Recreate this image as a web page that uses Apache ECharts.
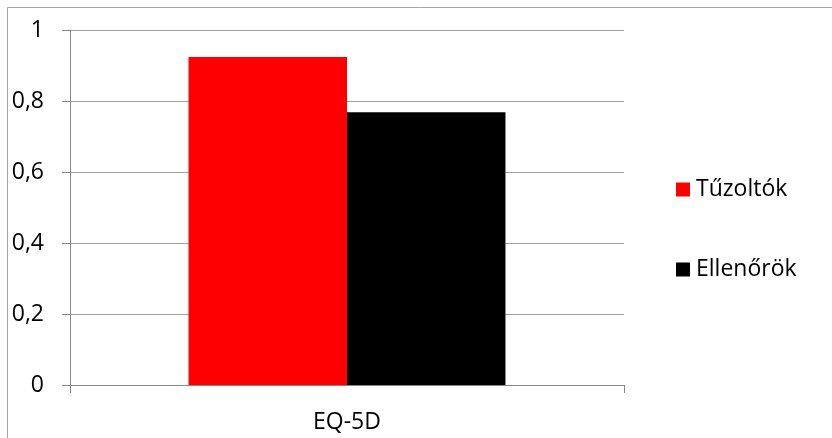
<!DOCTYPE html>
<html>
<head>
<meta charset="utf-8">
<script src="https://cdn.jsdelivr.net/npm/echarts@6/dist/echarts.min.js"></script>
<style>
  html, body { margin: 0; padding: 0; background: #fff; }
  #chart { width: 832px; height: 438px; }
</style>
</head>
<body>
<div id="chart"></div>
<script>
// EQ-5D scores by group
const categories = ['EQ-5D'];
const seriesNames = ['Tűzoltók', 'Ellenőrök'];
const tuzoltok = [0.926];
const ellenorok = [0.770];
const yTicks = { min: 0, max: 1, interval: 0.2 };

const FONT = '"Open Sans", sans-serif';
const AXIS_GREY = '#868686';

const chart = echarts.init(document.getElementById('chart'), null, { renderer: 'canvas' });

chart.setOption({
  animation: false,
  backgroundColor: '#fff',
  graphic: [{
    type: 'rect',
    shape: { x: 7.5, y: 7.5, width: 900, height: 500 },
    style: { fill: 'none', stroke: '#a6a6a6', lineWidth: 1 },
    silent: true
  }],
  grid: { left: 70, right: 208, top: 30.7, bottom: 53, containLabel: false },
  legend: {
    orient: 'vertical',
    left: 671,
    top: 173,
    itemWidth: 14,
    itemHeight: 14,
    itemGap: 57,
    icon: 'rect',
    textStyle: { fontFamily: FONT, fontSize: 23, color: '#000', lineHeight: 22, padding: [0, 0, 0, 1] },
    data: seriesNames
  },
  xAxis: {
    type: 'category',
    data: categories,
    boundaryGap: true,
    axisLine: { lineStyle: { color: AXIS_GREY, width: 1 } },
    axisTick: { show: true, length: 8, lineStyle: { color: AXIS_GREY } },
    axisLabel: { fontFamily: FONT, fontSize: 23, color: '#000', margin: 26 },
    splitLine: { show: false }
  },
  yAxis: {
    type: 'value',
    min: yTicks.min,
    max: yTicks.max,
    interval: yTicks.interval,
    axisLine: { show: true, lineStyle: { color: AXIS_GREY, width: 1 } },
    axisTick: { show: true, length: 8, lineStyle: { color: AXIS_GREY } },
    axisLabel: {
      fontFamily: FONT, fontSize: 23, color: '#000', margin: 26,
      formatter: v => String(Math.round(v * 10) / 10).replace('.', ',')
    },
    splitLine: { show: true, lineStyle: { color: '#a0a0a0', width: 1 } }
  },
  series: [
    {
      name: seriesNames[0], type: 'bar', data: tuzoltok,
      itemStyle: { color: '#ff0000' },
      barGap: '0%', barCategoryGap: '42.8%'
    },
    {
      name: seriesNames[1], type: 'bar', data: ellenorok,
      itemStyle: { color: '#000000' },
      barGap: '0%', barCategoryGap: '42.8%'
    }
  ]
});
</script>
</body>
</html>
